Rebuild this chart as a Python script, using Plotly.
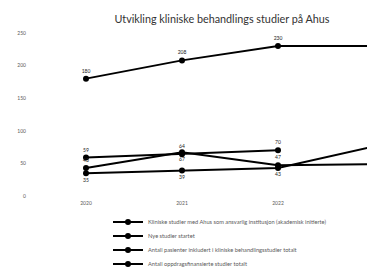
import plotly.graph_objects as go

years = ["2020", "2021", "2022", "2023"]
series_names = [
    "Kliniske studier med Ahus som ansvarlig institusjon (akademisk initierte)",
    "Nye studier startet",
    "Antall pasienter inkludert i kliniske behandlingsstudier totalt",
    "Antall oppdragsfinansierte studier totalt",
]
s1 = [180, 208, 230, 230]
s2 = [59, 64, 70, None]
s3 = [43, 67, 47, 49]
s4 = [35, 39, 43, 76]
y_ticks = [0, 50, 100, 150, 200, 250]

positions = [
    ["top center"] * 4,
    ["top center"] * 4,
    ["top center", "bottom center", "top center", "bottom center"],
    ["bottom center", "bottom center", "bottom center", "top center"],
]

W, H = 367, 265

fig = go.Figure()
all_series = [s1, s2, s3, s4]
legend_ids = ["legend", "legend2", "legend3", "legend4"]
for name, vals, pos, lg in zip(series_names, all_series, positions, legend_ids):
    fig.add_trace(go.Scatter(
        x=years, y=vals, name=name, mode="lines+markers+text",
        text=[("" if v is None else str(v)) for v in vals],
        textposition=pos,
        textfont=dict(size=5, color="#222222"),
        line=dict(color="#000000", width=2),
        marker=dict(color="#000000", size=6),
        connectgaps=False,
        legend=lg,
        cliponaxis=False,
        hoverinfo="skip",
    ))

legend_common = dict(
    xref="container", yref="container", xanchor="left", yanchor="middle",
    x=100 / W, font=dict(size=5.7, color="#595959", family="Lato"),
    bgcolor="rgba(0,0,0,0)", borderwidth=0, itemwidth=30,
)
leg_y = [214, 228, 242, 256]
layout_legends = {}
for lg, yy in zip(legend_ids, leg_y):
    layout_legends[lg] = dict(legend_common, y=1 - yy / H)

fig.update_layout(
    width=W, height=H,
    margin=dict(l=30, r=0, t=25, b=77, autoexpand=False),
    paper_bgcolor="white", plot_bgcolor="white",
    font=dict(family="Lato", color="#595959"),
    title=dict(text="Utvikling kliniske behandlings studier på Ahus",
               x=214 / W, xref="container", xanchor="center",
               y=1 - 11 / H, yref="container", yanchor="middle",
               font=dict(size=10.8, color="#333333", family="Lato")),
    showlegend=True,
    xaxis=dict(type="category", range=[-0.5, 3.0104], showgrid=False,
               zeroline=False, showline=False, ticks="", tickangle=0,
               tickfont=dict(size=5, color="#595959"), ticklabelstandoff=3,
               automargin=False),
    yaxis=dict(range=[0, 250], tickvals=y_ticks, showgrid=False,
               zeroline=False, showline=False, ticks="",
               tickfont=dict(size=5, color="#595959"), ticklabelstandoff=11,
               automargin=False),
    **layout_legends,
)

fig.write_html("out.html")
